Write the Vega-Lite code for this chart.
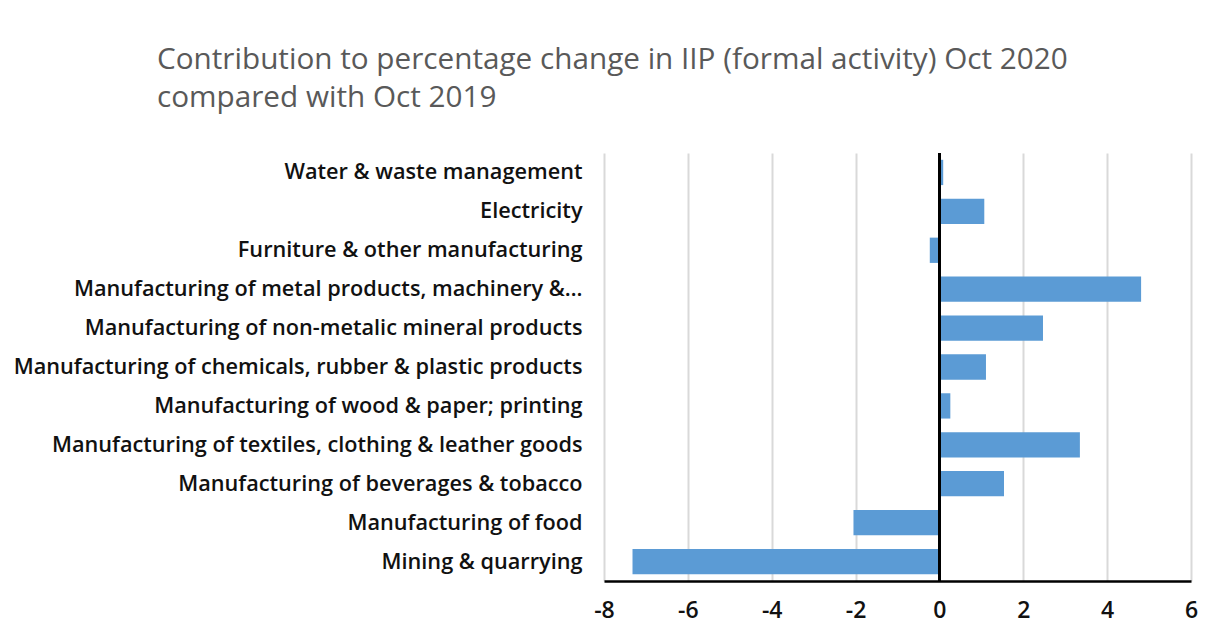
{
  "$schema": "https://vega.github.io/schema/vega-lite/v6.json",
  "autosize": {"type": "none"},
  "width": 587,
  "height": 428,
  "padding": {"left": 604, "top": 153, "right": 17, "bottom": 63},
  "background": "white",
  "title": {
    "text": ["Contribution to percentage change in IIP (formal activity) Oct 2020", "compared with Oct 2019"],
    "anchor": "start",
    "frame": "group",
    "dx": -447,
    "offset": 38,
    "fontSize": 29.7,
    "lineHeight": 38,
    "font": "Open Sans",
    "fontWeight": "normal",
    "color": "#595959"
  },
  "data": {
    "values": [
      {"sector": "Water & waste management", "value": 0.09},
      {"sector": "Electricity", "value": 1.07},
      {"sector": "Furniture & other manufacturing ", "value": -0.23},
      {"sector": "Manufacturing of metal products, machinery &…", "value": 4.81},
      {"sector": "Manufacturing of non-metalic mineral products", "value": 2.47},
      {"sector": "Manufacturing of chemicals, rubber & plastic products", "value": 1.11},
      {"sector": "Manufacturing of wood & paper; printing", "value": 0.26},
      {"sector": "Manufacturing of textiles, clothing & leather goods", "value": 3.35},
      {"sector": "Manufacturing of beverages & tobacco", "value": 1.54},
      {"sector": "Manufacturing of food", "value": -2.05},
      {"sector": "Mining & quarrying", "value": -7.32}
    ]
  },
  "config": {"view": {"stroke": null}},
  "layer": [
    {
      "mark": {"type": "bar", "color": "#5B9BD5"},
      "encoding": {
        "y": {
          "field": "sector",
          "type": "nominal",
          "sort": null,
          "scale": {"paddingInner": 0.35, "paddingOuter": 0.175},
          "axis": {
            "title": null,
            "ticks": false,
            "domain": false,
            "labelPadding": 22,
            "labelFontSize": 21.7,
            "labelFont": "Open Sans",
            "labelFontWeight": 600,
            "labelColor": "#111111",
            "labelLimit": 700
          }
        },
        "x": {
          "field": "value",
          "type": "quantitative",
          "scale": {"domain": [-8, 6], "nice": false, "zero": false},
          "axis": {
            "title": null,
            "values": [-8, -6, -4, -2, 0, 2, 4, 6],
            "labelExpr": "'' + datum.value",
            "ticks": false,
            "domainColor": "#000000",
            "domainWidth": 2.5,
            "gridColor": "#d9d9d9",
            "gridWidth": 2,
            "labelPadding": 18,
            "labelFontSize": 23,
            "labelFont": "Open Sans",
            "labelFontWeight": 600,
            "labelColor": "#111111",
            "labelFlush": false
          }
        }
      }
    },
    {
      "mark": {"type": "rule", "color": "#000000", "strokeWidth": 2},
      "encoding": {"x": {"datum": 0}}
    }
  ]
}
